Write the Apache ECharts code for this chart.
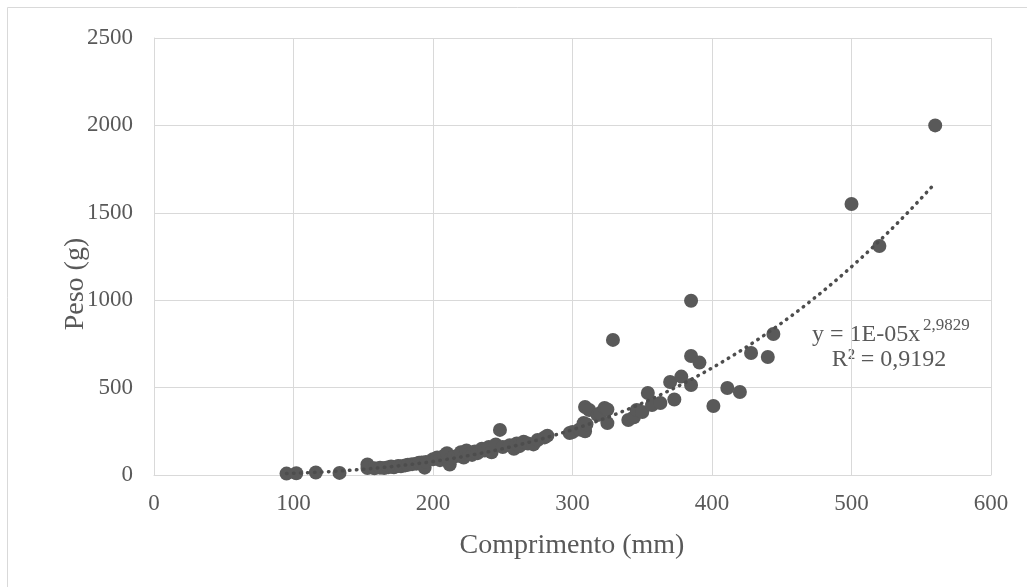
<!DOCTYPE html>
<html>
<head>
<meta charset="utf-8">
<script src="https://cdn.jsdelivr.net/npm/echarts@6/dist/echarts.min.js"></script>
<style>
  html, body { margin: 0; padding: 0; background: #ffffff; }
  #chart { width: 1027px; height: 587px; }
</style>
</head>
<body>
<div id="chart"></div>
<script>
// Length (mm) of each fish
const comprimento = [
  95, 102, 116, 133,
  153, 153, 158, 162, 165, 168, 170, 172, 175, 177, 180, 182, 185, 188, 190, 192, 194, 195,
  200, 203, 205, 208, 210, 212, 213, 215, 218, 220, 222, 224, 226, 228, 230, 232, 235, 237,
  240, 242, 245, 248, 250, 255, 258, 260, 262, 265, 268, 272, 275, 280, 282,
  298, 300, 305, 308, 309, 309, 310, 312, 318, 320, 323, 325, 325, 329,
  340, 344, 346, 350, 354, 357, 363, 370, 373, 378, 385, 385, 385, 391,
  401, 411, 420, 428, 440, 444, 500, 520, 560
];
// Weight (g) of each fish
const peso = [
  8, 10, 14, 12,
  60, 40, 38, 42, 40, 45, 48, 44, 52, 50, 55, 58, 62, 65, 70, 72, 42, 75,
  90, 100, 85, 110, 125, 60, 95, 105, 110, 130, 100, 140, 120, 115, 135, 125, 150, 140,
  160, 130, 175, 258, 160, 170, 150, 180, 165, 190, 180, 175, 200, 215, 225,
  240, 246, 260, 297, 389, 250, 290, 372, 343, 355, 383, 297, 375, 773,
  315, 330, 372, 360, 469, 400, 412, 532, 432, 563, 515, 681, 997, 643,
  395, 498, 475, 698, 675, 807, 1550, 1310, 2000
];

// Axis ticks
const xTicks = [0, 100, 200, 300, 400, 500, 600];
const yTicks = [0, 500, 1000, 1500, 2000, 2500];

// Power trendline y = a·x^b
const trendCoef = 1.06e-5;
const trendExp = 2.9829;
const trendLabel = 'y = 1E-05x';
const trendExpLabel = '2,9829';
const r2Label = 'R² = 0,9192';

const points = comprimento.map((c, i) => [c, peso[i]]);

const xMinData = Math.min(...comprimento);
const xMaxData = Math.max(...comprimento);
const trend = [];
const steps = 120;
for (let i = 0; i <= steps; i++) {
  const x = xMinData + (xMaxData - xMinData) * i / steps;
  trend.push([x, trendCoef * Math.pow(x, trendExp)]);
}

const SERIF = '"Liberation Serif", "DejaVu Serif", serif';
const TEXT = '#595959';
const GRID = '#d9d9d9';

const chart = echarts.init(document.getElementById('chart'), null, { renderer: 'canvas' });

chart.setOption({
  animation: false,
  backgroundColor: '#ffffff',
  grid: { left: 154, right: 36, top: 38, bottom: 112, containLabel: false },
  xAxis: {
    type: 'value',
    min: xTicks[0],
    max: xTicks[xTicks.length - 1],
    interval: xTicks[1] - xTicks[0],
    axisLine: { show: true, lineStyle: { color: GRID, width: 1 } },
    axisTick: { show: false },
    splitLine: { show: true, lineStyle: { color: GRID, width: 1 } },
    axisLabel: { color: TEXT, fontFamily: SERIF, fontSize: 23, margin: 17, formatter: v => String(v) }
  },
  yAxis: {
    type: 'value',
    min: yTicks[0],
    max: yTicks[yTicks.length - 1],
    interval: yTicks[1] - yTicks[0],
    axisLine: { show: true, lineStyle: { color: GRID, width: 1 } },
    axisTick: { show: false },
    splitLine: { show: true, lineStyle: { color: GRID, width: 1 } },
    axisLabel: { color: TEXT, fontFamily: SERIF, fontSize: 23, margin: 21, formatter: v => String(v) }
  },
  series: [
    {
      name: 'Peso',
      type: 'scatter',
      data: points,
      symbol: 'circle',
      symbolSize: 14,
      itemStyle: { color: '#595959', opacity: 1 },
      z: 2
    },
    {
      name: 'Tendência',
      type: 'line',
      data: trend,
      showSymbol: false,
      smooth: false,
      lineStyle: { color: '#4d4d4d', width: 3.5, type: [0.5, 6.5], cap: 'round' },
      z: 3
    }
  ],
  graphic: [
    {
      type: 'rect',
      silent: true,
      shape: { x: 7.5, y: 7.5, width: 1030, height: 600 },
      style: { fill: 'none', stroke: GRID, lineWidth: 1 },
      z: -10
    },
    {
      type: 'text',
      x: 572, y: 546,
      style: { text: 'Comprimento (mm)', font: '28px ' + SERIF, fill: TEXT, align: 'center', verticalAlign: 'middle' }
    },
    {
      type: 'text',
      x: 76, y: 284,
      rotation: Math.PI / 2,
      style: { text: 'Peso (g)', font: '28px ' + SERIF, fill: TEXT, align: 'center', verticalAlign: 'middle' }
    },
    {
      type: 'text',
      x: 812, y: 335,
      style: { text: trendLabel, font: '24px ' + SERIF, fill: TEXT, align: 'left', verticalAlign: 'middle' }
    },
    {
      type: 'text',
      x: 923, y: 326,
      style: { text: trendExpLabel, font: '17px ' + SERIF, fill: TEXT, align: 'left', verticalAlign: 'middle' }
    },
    {
      type: 'text',
      x: 889, y: 360,
      style: { text: r2Label, font: '24px ' + SERIF, fill: TEXT, align: 'center', verticalAlign: 'middle' }
    }
  ]
});
</script>
</body>
</html>
